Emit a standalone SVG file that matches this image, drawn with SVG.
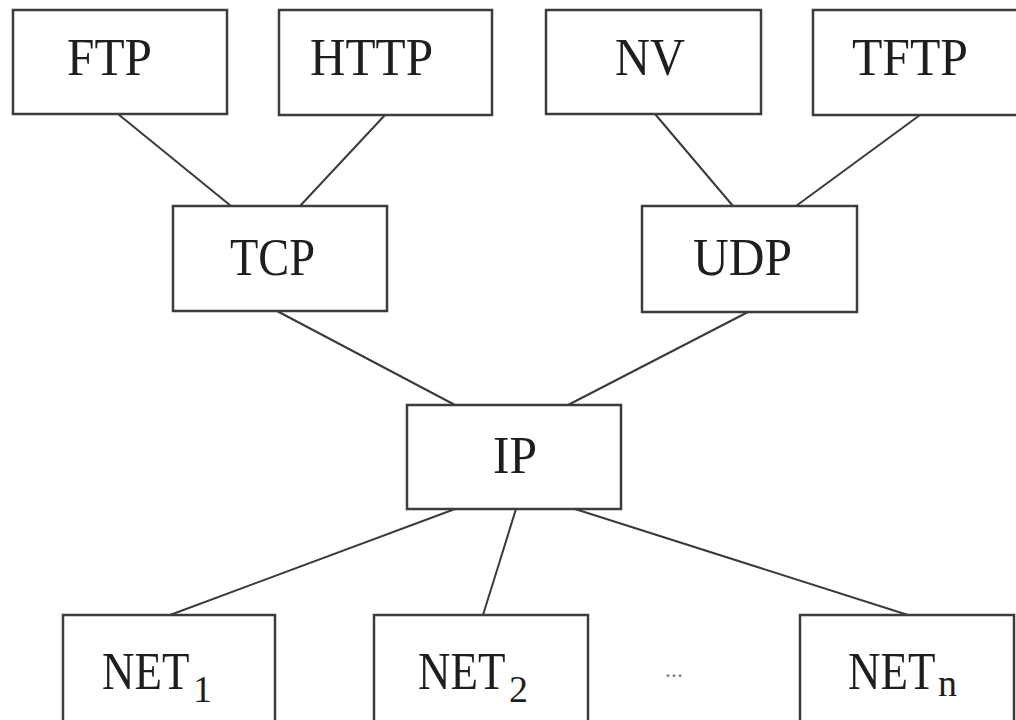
<svg xmlns="http://www.w3.org/2000/svg" width="1016" height="720" viewBox="0 0 1016 720">
<style>
.box{fill:#fff;stroke:#3c3c3c;stroke-width:2.5}
.lbl{font-family:"Liberation Serif","DejaVu Serif",serif;font-size:52px;fill:#1e1e1e}
.net{font-family:"Liberation Serif","DejaVu Serif",serif;font-size:45px;fill:#1e1e1e}
.sub{font-family:"Liberation Serif","DejaVu Serif",serif;font-size:38px;fill:#1e1e1e}
.con line{stroke:#3a3a3a;stroke-width:2}
.dots{font-family:"Liberation Serif",serif;font-size:24px;fill:#777}
</style>
<rect width="1016" height="720" fill="#fff"/>
<g class="con">
<line x1="118" y1="114" x2="231" y2="206"/>
<line x1="385" y1="115" x2="300" y2="206"/>
<line x1="655" y1="114" x2="733" y2="206"/>
<line x1="920" y1="115" x2="796" y2="206"/>
<line x1="277" y1="311" x2="455" y2="405"/>
<line x1="748" y1="312" x2="568" y2="405"/>
<line x1="455" y1="509" x2="170" y2="615"/>
<line x1="516" y1="509" x2="483" y2="615"/>
<line x1="575" y1="509" x2="908" y2="615"/>
</g>
<g id="ftp"><rect class="box" x="13" y="10" width="214" height="104"/><text class="lbl" x="67" y="75" textLength="85" lengthAdjust="spacingAndGlyphs">FTP</text></g>
<g id="http"><rect class="box" x="279" y="10" width="213" height="105"/><text class="lbl" x="310" y="75" textLength="123" lengthAdjust="spacingAndGlyphs">HTTP</text></g>
<g id="nv"><rect class="box" x="546" y="10" width="215" height="104"/><text class="lbl" x="615" y="75" textLength="70" lengthAdjust="spacingAndGlyphs">NV</text></g>
<g id="tftp"><rect class="box" x="813" y="10" width="215" height="105"/><text class="lbl" x="852" y="75" textLength="116" lengthAdjust="spacingAndGlyphs">TFTP</text></g>
<g id="tcp"><rect class="box" x="173" y="206" width="214" height="105"/><text class="lbl" x="230" y="275" textLength="85" lengthAdjust="spacingAndGlyphs">TCP</text></g>
<g id="udp"><rect class="box" x="642" y="206" width="215" height="106"/><text class="lbl" x="693" y="275" textLength="99" lengthAdjust="spacingAndGlyphs">UDP</text></g>
<g id="ip"><rect class="box" x="407" y="405" width="214" height="104"/><text class="lbl" x="493" y="473" textLength="44" lengthAdjust="spacingAndGlyphs">IP</text></g>
<g id="net1"><rect class="box" x="63" y="615" width="212" height="110"/><text class="net" transform="translate(102 689) scale(1 1.18)">NET</text><text class="sub" x="193" y="702">1</text></g>
<g id="net2"><rect class="box" x="374" y="615" width="214" height="110"/><text class="net" transform="translate(418 689) scale(1 1.18)">NET</text><text class="sub" x="509" y="702">2</text></g>
<g id="netn"><rect class="box" x="800" y="615" width="214" height="110"/><text class="net" transform="translate(848 689) scale(1 1.18)">NET</text><text class="sub" x="938" y="696">n</text></g>
<text class="dots" x="665" y="677">...</text>
</svg>
